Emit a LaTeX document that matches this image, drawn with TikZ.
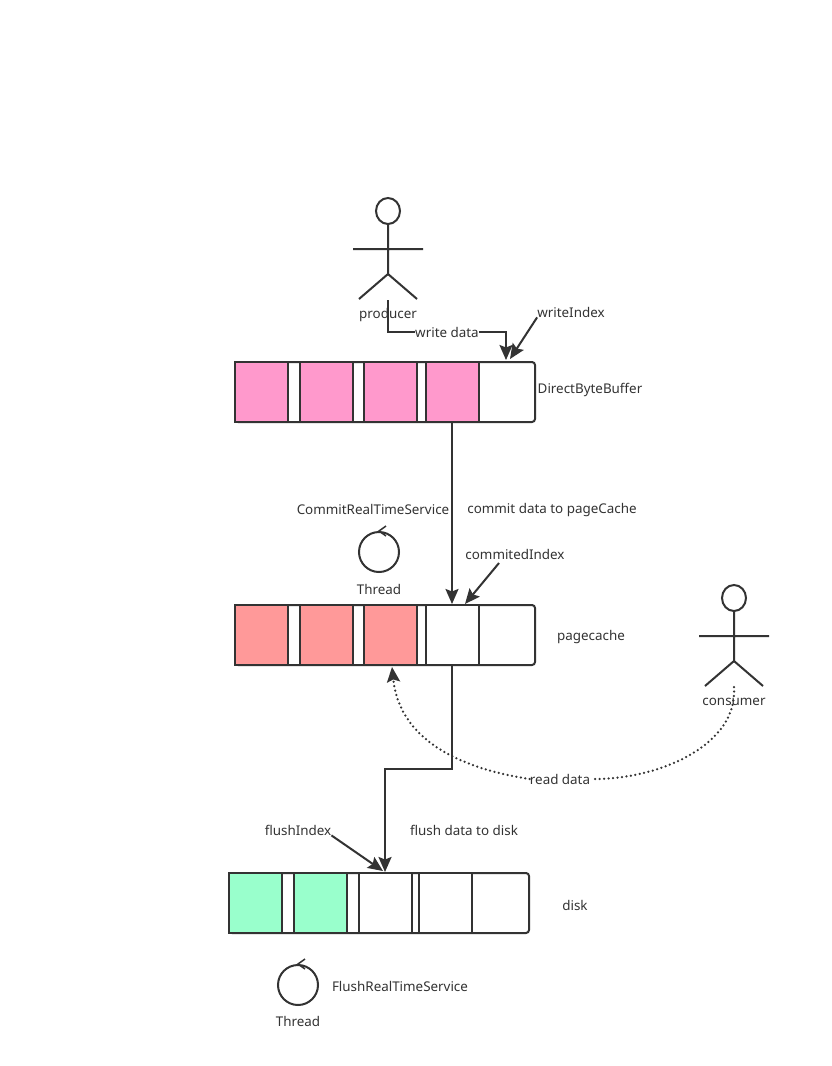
\documentclass[tikz,border=0pt]{standalone}
\usepackage{fontspec}
\setmainfont{Noto Sans}
\usepackage{xcolor}
\usetikzlibrary{arrows.meta, positioning, calc}
\definecolor{themegray}{RGB}{51, 51, 51}
\definecolor{themepink}{RGB}{255, 153, 204}
\definecolor{themered}{RGB}{255, 153, 153}
\definecolor{themegreen}{RGB}{153, 255, 204}
\tikzset{
    label text/.style={text=themegray, inner sep=0pt, font=\fontsize{13.4}{15}\selectfont},
    row box/.style={draw=themegray, line width=2pt, rounded corners=3pt, minimum width=300pt, minimum height=60pt, inner sep=0pt},
    cell/.style={draw=themegray, line width=2pt, minimum width=53pt, minimum height=60pt, inner sep=0pt},
    loop ring/.style={draw=themegray, line width=2pt, circle, minimum size=40pt, inner sep=0pt},
    link/.style={->, themegray, line width=2pt},
    read link/.style={themegray, line width=2.5pt, line cap=round, dash pattern=on 0pt off 4.5pt},
    actor/.pic={
        \draw[themegray, line width=2pt] (0,0) ellipse (12 and 13)
            (0,13) -- (0,63) (-35,38) -- (35,38) (-29,88) -- (0,63) -- (29,88);
    }
}
\begin{document}
\begin{tikzpicture}[x=1pt, y=-1pt, >={Stealth[length=15pt, width=13pt, inset=2.5pt]}]
    \useasboundingbox (0,0) rectangle (831,1066);
    \fill[white] (0,0) rectangle (831,1066);

    \pic at (388,211) {actor};
    \pic at (734,598) {actor};
    \node[label text] (producer) at (388,315) {producer};
    \node[label text] (consumer) at (734,702) {consumer};

    \node[row box] (bufferBox) at (385,392) {};
    \node[row box] (pageBox) at (385,635) {};
    \node[row box] (diskBox) at (379,903) {};

    \foreach \i/\cx in {1/261.5, 2/326.5, 3/390.5, 4/452}
        \node[cell, fill=themepink] (buffer\i) at (\cx,392) {};
    \foreach \i/\cx/\col in {1/261.5/themered, 2/326.5/themered, 3/390.5/themered, 4/452/white}
        \node[cell, fill=\col] (page\i) at (\cx,635) {};
    \foreach \i/\cx/\col in {1/255.5/themegreen, 2/320.5/themegreen, 3/385/white, 4/445.5/white}
        \node[cell, fill=\col] (disk\i) at (\cx,903) {};

    \node[label text] (bufferName) at (590,390) {DirectByteBuffer};
    \node[label text] (pageName) at (591,637) {pagecache};
    \node[label text] (diskName) at (575,905) {disk};
    \node[label text] (writeIndex) at (571,312) {writeIndex};
    \node[label text] (commitedIndex) at (515,554) {commitedIndex};
    \node[label text] (flushIndex) at (298,830) {flushIndex};
    \node[label text] (commitData) at (552,510) {commit data to pageCache};
    \node[label text] (flushData) at (464,830) {flush data to disk};
    \node[label text] (commitService) at (373,509) {CommitRealTimeService};
    \node[label text] (flushService) at (400,986) {FlushRealTimeService};
    \node[label text] (writeData) at (447,332) {write data};
    \node[label text] (readData) at (560,779) {read data};

    % thread loops
    \node[loop ring] (commitLoop) at (379,552) {};
    \node[loop ring] (flushLoop) at (298,985) {};
    \foreach \loopname in {commitLoop, flushLoop}
        \draw[themegray, line width=1.5pt] ($(\loopname.north)+(7,-5)$) -- (\loopname.north) -- ($(\loopname.north)+(7,5)$);
    \node[label text] (commitThread) at (379,589) {Thread};
    \node[label text] (flushThread) at (298,1021) {Thread};

    \coordinate (producerFoot) at (388,300);
    \coordinate (writeTip) at (506,360);
    \coordinate (writeIndexTip) at (510,359);
    \coordinate (commitedTail) at (499,563);
    \coordinate (commitedTip) at (465,604);
    \coordinate (flushBend) at (385,769);
    \coordinate (flushIndexTip) at (383,871);
    \coordinate (consumerFoot) at (734,687);
    \coordinate (readTip) at (392,667);

    \draw[themegray, line width=2pt] (producerFoot) |- (writeData.west);
    \draw[link] (writeData.east) -| (writeTip);
    \draw[link] (writeIndex.south west) -- (writeIndexTip);
    \draw[link] (buffer4.south) -- (page4.north);
    \draw[link] (commitedTail) -- (commitedTip);
    \draw[link] (page4.south) |- (flushBend) -- (disk3.north);
    \draw[link] (flushIndex.south east) -- (flushIndexTip);
    \draw[read link] (consumerFoot) .. controls (738,745) and (660,779) .. ($(readData.east)+(4,0)$);
    \draw[read link, ->] (readData.west) .. controls (470,770) and (400,745) .. (readTip);
\end{tikzpicture}
\end{document}
